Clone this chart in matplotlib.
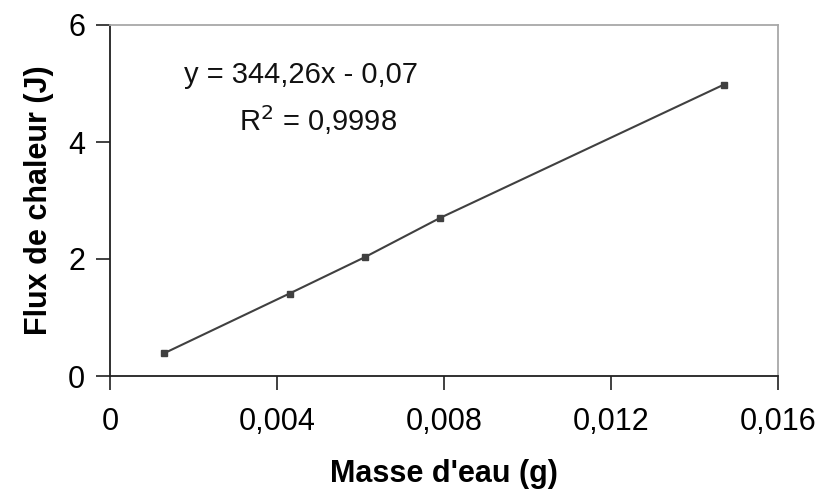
import matplotlib
matplotlib.use("Agg")
import matplotlib.pyplot as plt
from matplotlib.ticker import FuncFormatter

plt.rcParams['font.family'] = ['Liberation Sans', 'DejaVu Sans']

masse = [0.0013, 0.0043, 0.0061, 0.0079, 0.0147]
flux = [0.39, 1.41, 2.03, 2.70, 4.98]
x_ticks = [0, 0.004, 0.008, 0.012, 0.016]
y_ticks = [0, 2, 4, 6]
equation = "y = 344,26x - 0,07"
r2_text = "R$^2$ = 0,9998"

fig = plt.figure(figsize=(8.21, 4.95), dpi=100)
ax = fig.add_axes([110/821, 1-376/495, (778-110)/821, (376-25)/495])

ax.plot(masse, flux, color='#404040', lw=1.5, marker='s', markersize=4,
        markerfacecolor='#404040', markeredgecolor='#404040')

ax.set_xlim(0, 0.016)
ax.set_ylim(0, 6)
ax.set_xticks(x_ticks)
ax.set_yticks(y_ticks)
ax.xaxis.set_major_formatter(FuncFormatter(lambda v, p: ('%g' % round(v, 3)).replace('.', ',')))
ax.yaxis.set_major_formatter(FuncFormatter(lambda v, p: '%g' % v))
ax.tick_params(axis='both', direction='out', length=10, width=1.2, color='#202020',
               labelsize=22)
ax.tick_params(axis='x', pad=12)
ax.tick_params(axis='y', pad=8)

for s in ['left', 'bottom']:
    ax.spines[s].set_color('#202020')
    ax.spines[s].set_linewidth(1.3)
for s in ['top', 'right']:
    ax.spines[s].set_color('#a8a8a8')
    ax.spines[s].set_linewidth(1.3)

ax.set_xlabel("Masse d'eau (g)", fontsize=22, fontweight='bold', labelpad=16)
ax.set_ylabel("Flux de chaleur (J)", fontsize=22, fontweight='bold', labelpad=10)

ax.text(0.00457, 5.15, equation, fontsize=21, ha='center', va='center', color='#111111')
ax.text(0.00498, 4.38, r2_text, fontsize=21, ha='center', va='center', color='#111111')

fig.savefig('out.png', dpi=100)
